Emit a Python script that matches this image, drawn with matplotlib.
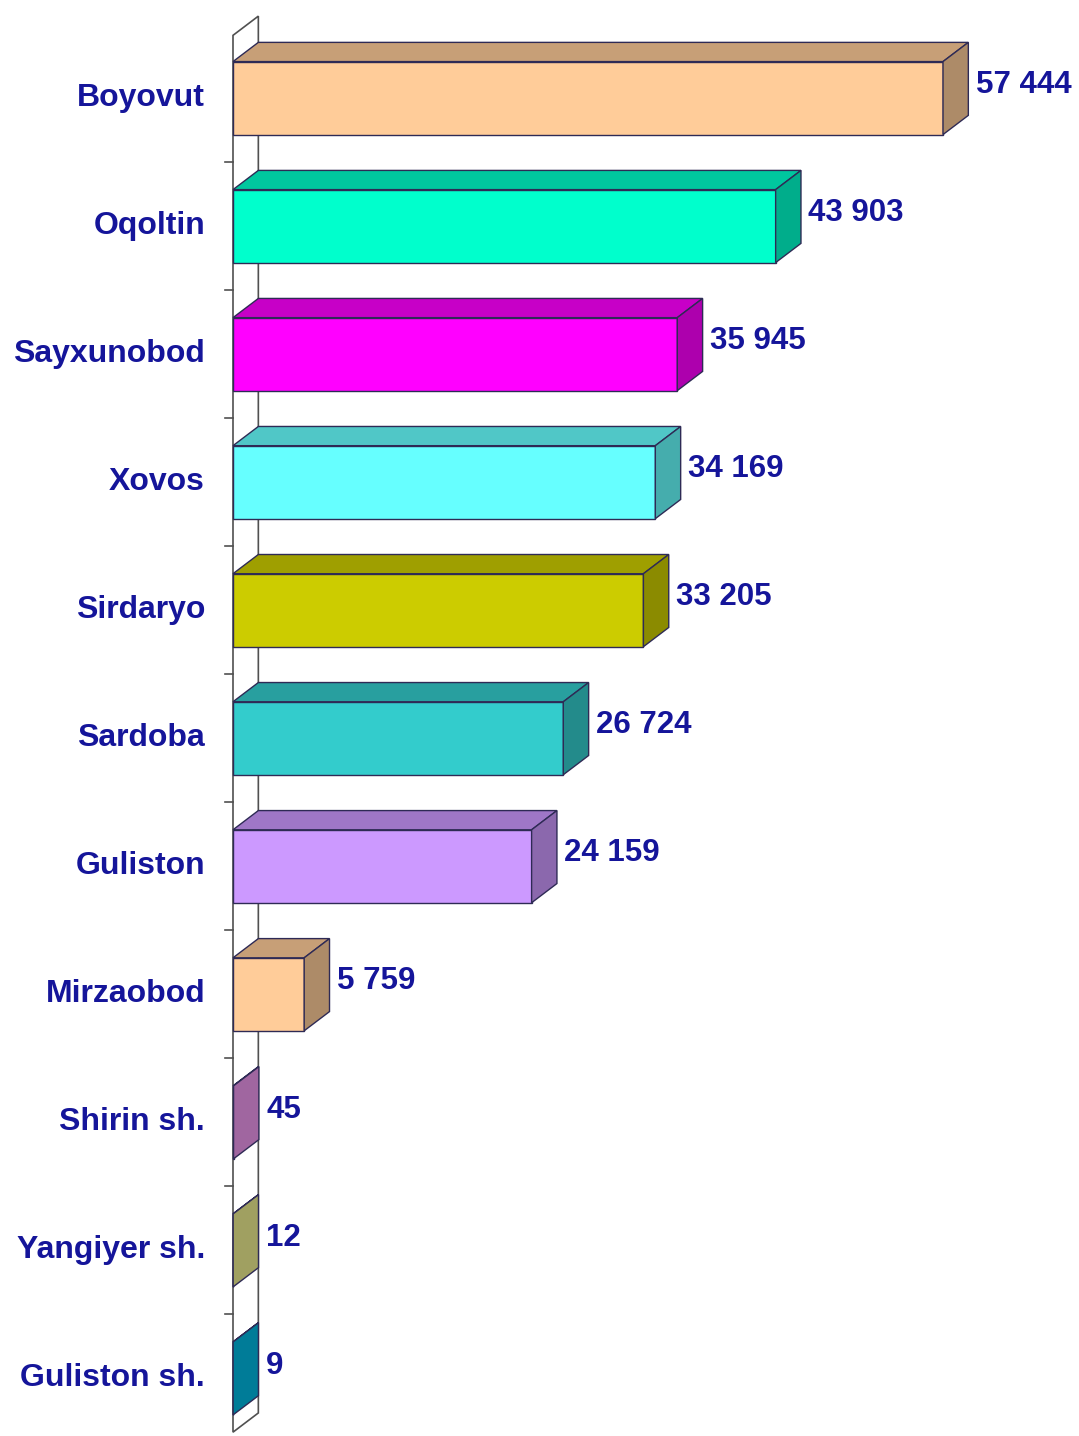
import numpy as np
import matplotlib.pyplot as plt
from matplotlib.patches import Polygon
from matplotlib.colors import to_rgb

# data
districts = ["Boyovut", "Oqoltin", "Sayxunobod", "Xovos", "Sirdaryo", "Sardoba",
             "Guliston", "Mirzaobod", "Shirin sh.", "Yangiyer sh.", "Guliston sh."]
values = [57444, 43903, 35945, 34169, 33205, 26724, 24159, 5759, 45, 12, 9]
value_labels = ["57 444", "43 903", "35 945", "34 169", "33 205", "26 724",
                "24 159", "5 759", "45", "12", "9"]
front_colors = ["#FFCC99", "#00FFCC", "#FF00FF", "#66FFFF", "#CCCC00", "#33CCCC",
                "#CC99FF", "#FFCC99", "#EB96EB", "#EBEB8E", "#00B6E0"]


def shade(c, f):
    r, g, b = to_rgb(c)
    return (r * f, g * f, b * f)


fig = plt.figure(figsize=(10.79, 14.36), dpi=100)
ax = fig.add_axes([0, 0, 1, 1])
ax.set_xlim(-18851, 68447)
ax.set_ylim(10.45, -0.766)
ax.axis("off")

dx = 2050      # 3D depth along x (data units)
dy = -0.15     # 3D depth along y (rows)
h = 0.285      # half bar height
edge = "#2E2A55"
txt = "#15159A"

# back wall
n = len(districts)
y_top, y_bot = -0.49, n - 0.58
wall = Polygon([(0, y_top), (0, y_bot), (dx, y_bot + dy), (dx, y_top + dy)],
               closed=True, facecolor="white", edgecolor="#505050", lw=1.2, zorder=1)
ax.add_patch(wall)
for k in range(n - 1):
    ax.plot([-650, 0], [k + 0.5, k + 0.5], color="#505050", lw=1.2, zorder=1)

for i, (v, c) in enumerate(zip(values, front_colors)):
    y0, y1 = i - h, i + h
    front = Polygon([(0, y0), (v, y0), (v, y1), (0, y1)], closed=True,
                    facecolor=c, edgecolor=edge, lw=1, zorder=3)
    top = Polygon([(0, y0), (v, y0), (v + dx, y0 + dy), (dx, y0 + dy)], closed=True,
                  facecolor=shade(c, 0.78), edgecolor=edge, lw=1, zorder=3)
    side = Polygon([(v, y0), (v + dx, y0 + dy), (v + dx, y1 + dy), (v, y1)], closed=True,
                   facecolor=shade(c, 0.68), edgecolor=edge, lw=1, zorder=3)
    for p in (front, top, side):
        ax.add_patch(p)
    ax.text(v + dx + 600, i - 0.1, value_labels[i], ha="left", va="center",
            fontsize=22.5, fontweight="bold", color=txt, family="Liberation Sans", zorder=4)
    ax.text(-2265, i, districts[i], ha="right", va="center",
            fontsize=23, fontweight="bold", color=txt, family="Liberation Sans", zorder=4)

fig.savefig("out.png", dpi=100)
